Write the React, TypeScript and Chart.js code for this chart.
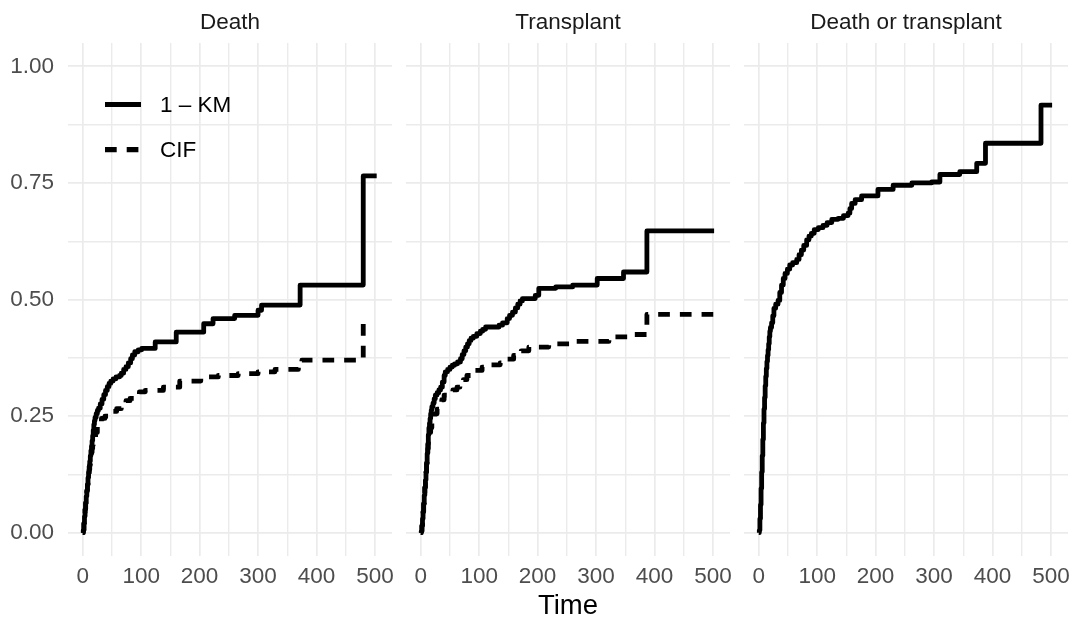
import React, { useEffect, useRef } from "react";
import { Chart, registerables } from "chart.js";

Chart.register(...registerables);

// ---------- data ----------
const panelTitles = ["Death", "Transplant", "Death or transplant"];
const seriesLabels = ["1 \u2013 KM", "CIF"];
const axisTitle = "Time";

const xMajorTicks = [0, 100, 200, 300, 400, 500];
const xMinorTicks = [50, 150, 250, 350, 450];
const yMajorTicks = [0, 0.25, 0.5, 0.75, 1];
const yMinorTicks = [0.125, 0.375, 0.625, 0.875];
const yTickLabels = ["0.00", "0.25", "0.50", "0.75", "1.00"];

// Death: 1 - KM
const deathKmTime = [0, 1, 2, 3, 4, 5, 6, 7, 8, 9, 10, 11, 12, 13, 14, 15, 16, 17, 18, 19, 20, 21, 23, 25, 27, 30, 33, 36, 39, 42, 45, 48, 52, 57, 63, 66, 70, 74, 78, 82, 85, 89, 95, 101, 124, 160, 207, 223, 260, 300, 306, 372, 480, 503];
const deathKmValue = [0, 0.005, 0.02, 0.035, 0.05, 0.064, 0.078, 0.09, 0.103, 0.118, 0.13, 0.142, 0.153, 0.165, 0.176, 0.186, 0.197, 0.208, 0.22, 0.232, 0.24, 0.247, 0.255, 0.262, 0.267, 0.276, 0.286, 0.296, 0.305, 0.313, 0.32, 0.325, 0.33, 0.334, 0.337, 0.342, 0.35, 0.356, 0.364, 0.373, 0.381, 0.388, 0.392, 0.395, 0.409, 0.43, 0.448, 0.459, 0.466, 0.477, 0.488, 0.531, 0.765, 0.765];
// Death: CIF
const deathCifTime = [0, 1, 2, 3, 4, 5, 6, 7, 8, 9, 10, 11, 12, 13, 14, 15, 16, 17, 18, 20, 22, 25, 28, 32, 38, 45, 52, 58, 66, 74, 81, 90, 97, 107, 138, 166, 202, 232, 266, 300, 329, 369, 375, 480, 491];
const deathCifValue = [0, 0.005, 0.02, 0.035, 0.05, 0.064, 0.078, 0.09, 0.103, 0.115, 0.125, 0.135, 0.145, 0.155, 0.163, 0.172, 0.18, 0.188, 0.195, 0.205, 0.215, 0.228, 0.238, 0.245, 0.25, 0.255, 0.26, 0.266, 0.275, 0.283, 0.288, 0.297, 0.302, 0.305, 0.312, 0.325, 0.334, 0.337, 0.341, 0.345, 0.35, 0.355, 0.37, 0.452, 0.452];

// Transplant: 1 - KM
const transKmTime = [0, 1, 2, 3, 4, 5, 6, 7, 8, 9, 10, 11, 12, 13, 14, 15, 16, 17, 18, 19, 21, 23, 25, 28, 31, 34, 37, 40, 42, 46, 50, 54, 58, 63, 68, 71, 74, 77, 80, 83, 86, 90, 96, 102, 106, 111, 134, 140, 148, 152, 157, 162, 166, 170, 174, 196, 202, 231, 260, 302, 347, 387, 502];
const transKmValue = [0, 0.003, 0.015, 0.03, 0.045, 0.062, 0.08, 0.097, 0.113, 0.13, 0.15, 0.17, 0.19, 0.21, 0.225, 0.235, 0.245, 0.255, 0.263, 0.27, 0.278, 0.287, 0.295, 0.3, 0.306, 0.312, 0.323, 0.337, 0.345, 0.35, 0.355, 0.359, 0.362, 0.366, 0.373, 0.382, 0.39, 0.398, 0.405, 0.412, 0.417, 0.421, 0.427, 0.432, 0.436, 0.441, 0.445, 0.45, 0.459, 0.466, 0.473, 0.482, 0.49, 0.497, 0.502, 0.509, 0.524, 0.527, 0.531, 0.545, 0.559, 0.647, 0.647];
// Transplant: CIF
const transCifTime = [0, 1, 2, 3, 4, 5, 6, 7, 8, 9, 10, 11, 12, 13, 14, 15, 17, 19, 21, 24, 28, 32, 36, 40, 46, 55, 62, 67, 73, 79, 86, 93, 105, 120, 136, 148, 159, 172, 185, 219, 254, 322, 356, 387, 504];
const transCifValue = [0, 0.003, 0.015, 0.03, 0.045, 0.062, 0.08, 0.097, 0.113, 0.13, 0.148, 0.165, 0.18, 0.195, 0.207, 0.215, 0.225, 0.235, 0.245, 0.255, 0.265, 0.275, 0.285, 0.295, 0.3, 0.306, 0.312, 0.32, 0.328, 0.337, 0.342, 0.348, 0.355, 0.36, 0.364, 0.372, 0.38, 0.39, 0.398, 0.405, 0.41, 0.42, 0.425, 0.468, 0.468];

// Death or transplant: 1 - KM
const anyKmTime = [0, 1, 2, 3, 4, 5, 6, 7, 8, 9, 10, 11, 12, 13, 14, 15, 16, 17, 18, 19, 20, 22, 24, 26, 29, 33, 36, 39, 42, 45, 49, 53, 58, 65, 69, 73, 77, 82, 86, 90, 95, 102, 110, 117, 125, 136, 145, 153, 156, 159, 165, 176, 204, 230, 262, 296, 310, 344, 373, 388, 483, 502];
const anyKmValue = [0, 0.005, 0.03, 0.06, 0.095, 0.13, 0.165, 0.2, 0.235, 0.265, 0.29, 0.315, 0.335, 0.352, 0.367, 0.38, 0.392, 0.405, 0.42, 0.432, 0.44, 0.45, 0.465, 0.481, 0.49, 0.498, 0.515, 0.531, 0.545, 0.556, 0.565, 0.574, 0.579, 0.586, 0.596, 0.606, 0.616, 0.628, 0.636, 0.642, 0.65, 0.654, 0.659, 0.665, 0.672, 0.674, 0.68, 0.685, 0.695, 0.706, 0.714, 0.722, 0.736, 0.745, 0.75, 0.752, 0.768, 0.774, 0.792, 0.835, 0.917, 0.917];

// ---------- styling ----------
const W = 1073;
const H = 621;
const FONT = "'Liberation Sans', Arial, Helvetica, sans-serif";
const GRID = "#EBEBEB";
const LINE_W = 4.8;
const DASH = [11.7, 10];
const PANEL_TOP = 43;
const PANEL_BOTTOM = 556;
const panelLefts = [68, 406, 744];
const panelRights = [392, 730, 1068];

type Series = { time: number[]; value: number[]; dashed: boolean };

const panelSeries: Series[][] = [
  [
    { time: deathKmTime, value: deathKmValue, dashed: false },
    { time: deathCifTime, value: deathCifValue, dashed: true },
  ],
  [
    { time: transKmTime, value: transKmValue, dashed: false },
    { time: transCifTime, value: transCifValue, dashed: true },
  ],
  [{ time: anyKmTime, value: anyKmValue, dashed: false }],
];

const near = (a: number, b: number) => Math.abs(a - b) < 1e-6;

const textPlugin = {
  id: "panelText",
  afterDraw(chart: any, _args: any, opts: any) {
    const { ctx, chartArea } = chart;
    ctx.save();
    ctx.textBaseline = "middle";
    // strip title
    ctx.font = `22.5px ${FONT}`;
    ctx.fillStyle = "#1A1A1A";
    ctx.textAlign = "center";
    ctx.fillText(opts.title, (chartArea.left + chartArea.right) / 2, 23);
    if (opts.axisTitle) {
      ctx.font = `27.5px ${FONT}`;
      ctx.fillStyle = "#000000";
      ctx.fillText(axisTitle, (panelLefts[0] + panelRights[2]) / 2, 606.5);
    }
    if (opts.legend) {
      ctx.strokeStyle = "#000000";
      ctx.lineWidth = LINE_W + 0.4;
      ctx.lineCap = "butt";
      ctx.beginPath();
      ctx.setLineDash([]);
      ctx.moveTo(105, 104.5);
      ctx.lineTo(141, 104.5);
      ctx.stroke();
      ctx.beginPath();
      ctx.setLineDash(DASH);
      ctx.moveTo(105, 149.7);
      ctx.lineTo(141, 149.7);
      ctx.stroke();
      ctx.setLineDash([]);
      ctx.font = `22.5px ${FONT}`;
      ctx.fillStyle = "#000000";
      ctx.textAlign = "left";
      ctx.fillText(seriesLabels[0], 160, 105.5);
      ctx.fillText(seriesLabels[1], 160, 150.5);
    }
    ctx.restore();
  },
};

function makeConfig(idx: number): any {
  const showY = idx === 0;
  const left = panelLefts[idx];
  const right = panelRights[idx];
  const yAxisWidth = showY ? 60 : 0;
  return {
    type: "line",
    data: {
      datasets: panelSeries[idx].map((s, k) => ({
        label: seriesLabels[k],
        data: s.time.map((t, i) => ({ x: t, y: s.value[i] })),
        borderColor: "#000000",
        backgroundColor: "#000000",
        borderWidth: LINE_W,
        borderDash: s.dashed ? DASH : [],
        borderCapStyle: "butt",
        borderJoinStyle: "round",
        stepped: true,
        pointRadius: 0,
        pointHoverRadius: 0,
        fill: false,
        tension: 0,
      })),
    },
    options: {
      responsive: false,
      animation: false,
      devicePixelRatio: 1,
      events: [],
      layout: {
        padding: {
          left: left - yAxisWidth,
          right: W - right,
          top: PANEL_TOP,
          bottom: 0,
        },
      },
      plugins: {
        legend: { display: false },
        tooltip: { enabled: false },
        title: { display: false },
        panelText: { title: panelTitles[idx], legend: idx === 0, axisTitle: idx === 1 },
      },
      scales: {
        x: {
          type: "linear",
          min: -25.2,
          max: 529.2,
          afterBuildTicks: (scale: any) => {
            scale.ticks = [...xMajorTicks, ...xMinorTicks]
              .sort((a, b) => a - b)
              .map((v) => ({ value: v }));
          },
          afterFit: (scale: any) => {
            scale.height = H - PANEL_BOTTOM;
            scale.paddingLeft = 0;
            scale.paddingRight = 0;
          },
          border: { display: false },
          grid: {
            color: GRID,
            drawTicks: false,
            lineWidth: (c: any) =>
              c.tick && xMajorTicks.some((v) => near(v, c.tick.value)) ? 1.7 : 1.4,
          },
          ticks: {
            autoSkip: false,
            maxRotation: 0,
            minRotation: 0,
            padding: 7.5,
            color: "#4D4D4D",
            font: { family: FONT, size: 22.5 },
            callback: (v: number) =>
              xMajorTicks.some((m) => near(m, v)) ? String(v) : "",
          },
        },
        y: {
          type: "linear",
          min: -0.05,
          max: 1.05,
          afterBuildTicks: (scale: any) => {
            scale.ticks = [...yMajorTicks, ...yMinorTicks]
              .sort((a, b) => a - b)
              .map((v) => ({ value: v }));
          },
          afterFit: (scale: any) => {
            scale.width = yAxisWidth;
            scale.paddingTop = 0;
            scale.paddingBottom = 0;
          },
          border: { display: false },
          grid: {
            color: GRID,
            drawTicks: false,
            lineWidth: (c: any) =>
              c.tick && yMajorTicks.some((v) => near(v, c.tick.value)) ? 1.7 : 1.4,
          },
          ticks: {
            display: showY,
            autoSkip: false,
            padding: 14,
            color: "#4D4D4D",
            font: { family: FONT, size: 22.5 },
            callback: (v: number) => {
              const i = yMajorTicks.findIndex((m) => near(m, v));
              return i >= 0 ? yTickLabels[i] : "";
            },
          },
        },
      },
    },
    plugins: [textPlugin],
  };
}

export default function App() {
  const r0 = useRef<HTMLCanvasElement | null>(null);
  const r1 = useRef<HTMLCanvasElement | null>(null);
  const r2 = useRef<HTMLCanvasElement | null>(null);
  const refs = [r0, r1, r2];

  useEffect(() => {
    const charts = refs.map((r, i) => new Chart(r.current as HTMLCanvasElement, makeConfig(i)));
    return () => charts.forEach((c) => c.destroy());
  }, []);

  return (
    <div
      style={{
        position: "absolute",
        left: 0,
        top: 0,
        width: W,
        height: H,
        background: "#ffffff",
        overflow: "hidden",
      }}
    >
      {refs.map((r, i) => (
        <canvas
          key={i}
          ref={r}
          width={W}
          height={H}
          style={{ position: "absolute", left: 0, top: 0, width: W, height: H }}
        />
      ))}
    </div>
  );
}
